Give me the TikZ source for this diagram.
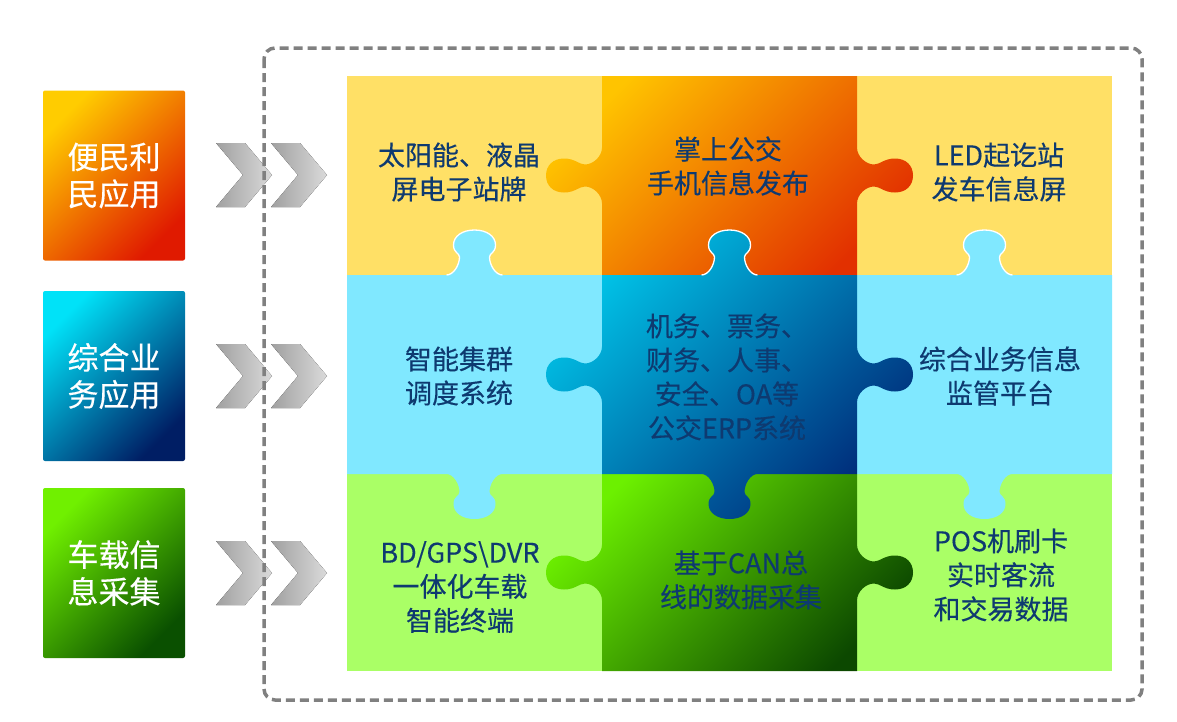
\documentclass[tikz,border=0pt]{standalone}
\usepackage{fontspec}
\setmainfont{Noto Sans CJK SC}[FakeBold=0.35]
\definecolor{txtnavy}{HTML}{0E3A70}
\definecolor{pieceyellow}{HTML}{FFE066}
\definecolor{pieceblue}{HTML}{80E8FF}
\definecolor{piecegreen}{HTML}{AAFF66}
\definecolor{chevdark}{HTML}{A0A0A0}
\definecolor{chevlight}{HTML}{DADADA}
\definecolor{framegray}{HTML}{808080}

% knob on a vertical edge: edge x, centre y, outward sign (x), sweep sign (y)
\newcommand\hknob[4]{%
 -- ({#1},{#2-(#4)*28})
 .. controls ({#1},{#2-(#4)*19}) and ({#1+(#3)*9},{#2-(#4)*11}) .. ({#1+(#3)*17},{#2-(#4)*11})
 .. controls ({#1+(#3)*23},{#2-(#4)*11}) and ({#1+(#3)*27},{#2-(#4)*17}) .. ({#1+(#3)*38},{#2-(#4)*17})
 .. controls ({#1+(#3)*49},{#2-(#4)*17}) and ({#1+(#3)*56},{#2-(#4)*10}) .. ({#1+(#3)*56},{#2})
 .. controls ({#1+(#3)*56},{#2+(#4)*10}) and ({#1+(#3)*49},{#2+(#4)*17}) .. ({#1+(#3)*38},{#2+(#4)*17})
 .. controls ({#1+(#3)*27},{#2+(#4)*17}) and ({#1+(#3)*23},{#2+(#4)*11}) .. ({#1+(#3)*17},{#2+(#4)*11})
 .. controls ({#1+(#3)*9},{#2+(#4)*11}) and ({#1},{#2+(#4)*19}) .. ({#1},{#2+(#4)*28})
}
% knob on a horizontal edge: edge y, centre x, outward sign (y), sweep sign (x)
\newcommand\vknob[4]{%
 -- ({#2-(#4)*28},{#1})
 .. controls ({#2-(#4)*21},{#1}) and ({#2-(#4)*15},{#1+(#3)*10}) .. ({#2-(#4)*15},{#1+(#3)*18})
 .. controls ({#2-(#4)*15},{#1+(#3)*22}) and ({#2-(#4)*21},{#1+(#3)*22}) .. ({#2-(#4)*21},{#1+(#3)*30})
 .. controls ({#2-(#4)*21},{#1+(#3)*39}) and ({#2-(#4)*12},{#1+(#3)*45}) .. ({#2},{#1+(#3)*45})
 .. controls ({#2+(#4)*12},{#1+(#3)*45}) and ({#2+(#4)*21},{#1+(#3)*39}) .. ({#2+(#4)*21},{#1+(#3)*30})
 .. controls ({#2+(#4)*21},{#1+(#3)*22}) and ({#2+(#4)*15},{#1+(#3)*22}) .. ({#2+(#4)*15},{#1+(#3)*18})
 .. controls ({#2+(#4)*15},{#1+(#3)*10}) and ({#2+(#4)*21},{#1}) .. ({#2+(#4)*28},{#1})
}
% double chevron arrow piece
\newcommand\chevron[2]{%
 \fill[left color=chevdark, right color=chevlight]
   (#1,#2-32) -- (#1+29,#2-32) -- (#1+56,#2) -- (#1+29,#2+32) -- (#1,#2+32) -- (#1+27,#2) -- cycle;
}

\begin{document}
\begin{tikzpicture}[x=1pt,y=-1pt,
  appbox/.style={minimum width=142pt, minimum height=170pt, rounded corners=2pt,
    text=white, align=center, font=\fontsize{31}{37}\selectfont},
  piecetext/.style={text=txtnavy, align=center, font=\fontsize{27}{34}\selectfont, inner sep=0pt}]
\useasboundingbox (0,0) rectangle (1177,721);

% application boxes on the left
\node[appbox, top color={rgb,255:red,255;green,204;blue,0}, bottom color={rgb,255:red,224;green,26;blue,0}, shading angle=45] (app1) at (114,175.5) {便民利\\民应用};
\node[appbox, top color={rgb,255:red,0;green,226;blue,248}, bottom color={rgb,255:red,0;green,30;blue,100}, shading angle=45] (app2) at (114,376) {综合业\\务应用};
\node[appbox, top color={rgb,255:red,112;green,240;blue,0}, bottom color={rgb,255:red,10;green,80;blue,0}, shading angle=45] (app3) at (114,573) {车载信\\息采集};

% chevrons
\chevron{216}{175}\chevron{271}{175}
\chevron{216}{376}\chevron{271}{376}
\chevron{216}{573}\chevron{271}{573}

% plain corner pieces
\fill[pieceyellow] (347,76) rectangle (602,275);
\fill[pieceyellow] (857,76) rectangle (1112,275);
\fill[piecegreen] (347,474) rectangle (602,671);
\fill[piecegreen] (857,474) rectangle (1112,671);

% middle column, top and bottom
\shade[top color={rgb,255:red,255;green,196;blue,0}, bottom color={rgb,255:red,226;green,48;blue,0}, shading angle=45]
  (602,76) -- (857,76) \hknob{857}{175.5}{1}{1} -- (857,275) -- (602,275) \hknob{602}{175.5}{-1}{-1} -- cycle;
\shade[top color={rgb,255:red,108;green,240;blue,0}, bottom color={rgb,255:red,12;green,72;blue,0}, shading angle=45]
  (602,474) -- (857,474) \hknob{857}{572.5}{1}{1} -- (857,671) -- (602,671) \hknob{602}{572.5}{-1}{-1} -- cycle;

% middle row, side pieces
\fill[pieceblue] (347,275) \vknob{275}{474.5}{-1}{1} -- (602,275) -- (602,474) \vknob{474}{474.5}{1}{-1} -- (347,474) -- cycle;
\fill[pieceblue] (857,275) \vknob{275}{984.5}{-1}{1} -- (1112,275) -- (1112,474) \vknob{474}{984.5}{1}{-1} -- (857,474) -- cycle;

% centre piece
\shade[top color={rgb,255:red,0;green,196;blue,232}, bottom color={rgb,255:red,0;green,44;blue,122}, shading angle=45]
  (602,275) \vknob{275}{729.5}{-1}{1} -- (857,275) \hknob{857}{374.5}{1}{1} -- (857,474)
  \vknob{474}{729.5}{1}{-1} -- (602,474) \hknob{602}{374.5}{-1}{-1} -- cycle;

% white rims of the upper knobs
\draw[white, line width=1.3pt] (446.5,275) \vknob{275}{474.5}{-1}{1};
\draw[white, line width=1.3pt] (701.5,275) \vknob{275}{729.5}{-1}{1};
\draw[white, line width=1.3pt] (956.5,275) \vknob{275}{984.5}{-1}{1};

% piece labels
\node[piecetext] (p11) at (459,172) {太阳能、液晶\\屏电子站牌};
\node[piecetext] (p12) at (728,166) {掌上公交\\手机信息发布};
\node[piecetext] (p13) at (999,172) {LED起讫站\\发车信息屏};
\node[piecetext] (p21) at (459,376) {智能集群\\调度系统};
\node[piecetext] (p22) at (727,377) {机务、票务、\\财务、人事、\\安全、OA等\\公交ERP系统};
\node[piecetext] (p23) at (1000,376) {综合业务信息\\监管平台};
\node[piecetext] (p31) at (460,587) {BD/GPS\textbackslash DVR\\一体化车载\\智能终端};
\node[piecetext] (p32) at (741,580) {基于CAN总\\线的数据采集};
\node[piecetext] (p33) at (1001,575) {POS机刷卡\\实时客流\\和交易数据};

% dashed frame
\draw[framegray, line width=3.5pt, dash pattern=on 9pt off 5pt, rounded corners=11pt]
  (264,48) rectangle (1142,700);
\end{tikzpicture}
\end{document}
